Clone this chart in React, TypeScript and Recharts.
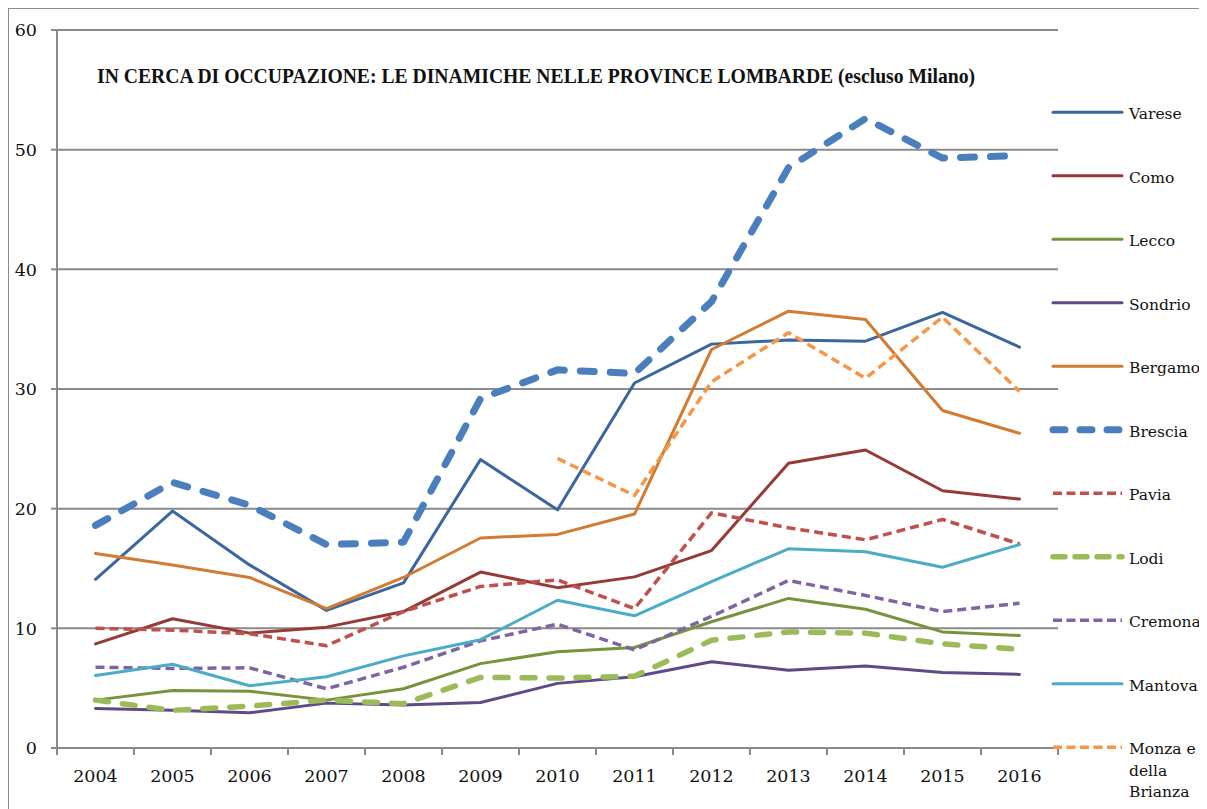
import { CartesianGrid, Line, LineChart, XAxis, YAxis } from "recharts";

const YEARS = ["2004", "2005", "2006", "2007", "2008", "2009", "2010", "2011", "2012", "2013", "2014", "2015", "2016"];
const Y_TICKS = [0, 10, 20, 30, 40, 50, 60];

const VARESE = [14.1, 19.8, 15.3, 11.5, 13.8, 24.1, 19.9, 30.5, 33.75, 34.1, 34.0, 36.4, 33.5];
const COMO = [8.7, 10.8, 9.6, 10.1, 11.4, 14.7, 13.4, 14.3, 16.5, 23.8, 24.9, 21.5, 20.8];
const LECCO = [4.0, 4.8, 4.75, 4.0, 4.95, 7.05, 8.05, 8.4, 10.55, 12.5, 11.6, 9.7, 9.4];
const SONDRIO = [3.3, 3.15, 2.95, 3.75, 3.6, 3.8, 5.4, 5.95, 7.2, 6.5, 6.85, 6.3, 6.15];
const BERGAMO = [16.25, 15.3, 14.25, 11.65, 14.25, 17.55, 17.85, 19.55, 33.3, 36.5, 35.8, 28.2, 26.3];
const BRESCIA = [18.6, 22.2, 20.3, 17.0, 17.2, 29.2, 31.6, 31.3, 37.3, 48.5, 52.6, 49.3, 49.5];
const PAVIA = [10.0, 9.85, 9.55, 8.55, 11.4, 13.5, 14.05, 11.65, 19.65, 18.4, 17.4, 19.1, 17.05];
const LODI = [4.0, 3.15, 3.5, 4.0, 3.7, 5.9, 5.85, 6.0, 9.0, 9.7, 9.6, 8.7, 8.25];
const CREMONA = [6.75, 6.65, 6.7, 4.95, 6.75, 8.95, 10.35, 8.2, 11.0, 14.0, 12.75, 11.4, 12.1];
const MANTOVA = [6.05, 7.0, 5.2, 5.95, 7.7, 9.05, 12.35, 11.05, 13.9, 16.65, 16.4, 15.1, 17.0];
const MONZA = [null, null, null, null, null, null, 24.2, 21.1, 30.6, 34.7, 30.9, 36.0, 29.8];

type Series = {
  key: string;
  name: string[];
  values: (number | null)[];
  color: string;
  width: number;
  dash?: string;
  legendDash?: string;
  cap?: "round" | "butt";
};

const SERIES: Series[] = [
  { key: "varese", name: ["Varese"], values: VARESE, color: "#3b679e", width: 3 },
  { key: "como", name: ["Como"], values: COMO, color: "#963a37", width: 3 },
  { key: "lecco", name: ["Lecco"], values: LECCO, color: "#77933c", width: 3 },
  { key: "sondrio", name: ["Sondrio"], values: SONDRIO, color: "#5f4a86", width: 3 },
  { key: "bergamo", name: ["Bergamo"], values: BERGAMO, color: "#d27b32", width: 3 },
  { key: "brescia", name: ["Brescia"], values: BRESCIA, color: "#4a7ebd", width: 7, dash: "14 16", legendDash: "12 15", cap: "round" },
  { key: "pavia", name: ["Pavia"], values: PAVIA, color: "#c0504d", width: 3.5, dash: "9 5", legendDash: "9 4.5", cap: "butt" },
  { key: "lodi", name: ["Lodi"], values: LODI, color: "#9bbb59", width: 5.5, dash: "13 14", legendDash: "12 10", cap: "round" },
  { key: "cremona", name: ["Cremona"], values: CREMONA, color: "#8064a2", width: 3.5, dash: "9 5", legendDash: "9 4.5", cap: "butt" },
  { key: "mantova", name: ["Mantova"], values: MANTOVA, color: "#4bacc6", width: 3 },
  { key: "monza", name: ["Monza e", "della", "Brianza"], values: MONZA, color: "#f79646", width: 3.5, dash: "9 5", legendDash: "9 4.5", cap: "butt" },
];

const data = YEARS.map((year, i) => {
  const row: Record<string, string | number | null> = { year };
  SERIES.forEach((s) => (row[s.key] = s.values[i]));
  return row;
});

// layout, in chart coordinates (the chart sits inside a 1px border at page 8,8)
const W = 1198;
const H = 800;
const PLOT = { left: 48, top: 21, right: 1049, bottom: 739 };
const X_AXIS_H = 30;
const BAND = (PLOT.right - PLOT.left) / YEARS.length;
const AXIS = "#8a8a8a";
const FONT = "'DejaVu Serif', serif";

function YearTick(props: any) {
  const { x, payload, index } = props;
  const left = x - BAND / 2;
  return (
    <g>
      <line x1={left} x2={left} y1={PLOT.bottom} y2={PLOT.bottom + 7} stroke={AXIS} strokeWidth={2} />
      {index === YEARS.length - 1 && (
        <line x1={x + BAND / 2} x2={x + BAND / 2} y1={PLOT.bottom} y2={PLOT.bottom + 7} stroke={AXIS} strokeWidth={2} />
      )}
      <text x={x} y={PLOT.bottom + 34} textAnchor="middle" fontFamily={FONT} fontSize={17.5} fill="#111">
        {payload.value}
      </text>
    </g>
  );
}

function Overlay() {
  return (
    <svg width={W} height={H} style={{ position: "absolute", left: 0, top: 0, pointerEvents: "none" }}>
      <text
        x={88}
        y={74}
        textLength={878}
        lengthAdjust="spacingAndGlyphs"
        fontFamily="'Liberation Serif', serif"
        fontWeight="bold"
        fontSize={20}
        fill="#111"
      >
        IN CERCA DI OCCUPAZIONE: LE DINAMICHE NELLE PROVINCE LOMBARDE (escluso Milano)
      </text>
      {SERIES.map((s, i) => {
        const y = 103.3 + i * 63.5;
        return (
          <g key={s.key}>
            <line
              x1={1044}
              x2={1113}
              y1={y}
              y2={y}
              stroke={s.color}
              strokeWidth={s.width}
              strokeDasharray={s.legendDash}
              strokeLinecap={s.cap ?? "round"}
            />
            {s.name.map((t, j) => (
              <text key={t} x={1120} y={y + 7 + j * 21.5} fontFamily={FONT} fontSize={15.5} fill="#111">
                {t}
              </text>
            ))}
          </g>
        );
      })}
    </svg>
  );
}

export default function App() {
  return (
    <div style={{ position: "relative", width: W, height: H, border: `1px solid ${AXIS}`, background: "#fff" }}>
      <LineChart
        width={W}
        height={H}
        data={data}
        margin={{ top: PLOT.top, right: W - PLOT.right, bottom: H - PLOT.bottom - X_AXIS_H, left: 0 }}
      >
        <CartesianGrid vertical={false} stroke={AXIS} strokeWidth={2} />
        <XAxis
          dataKey="year"
          scale="band"
          height={X_AXIS_H}
          interval={0}
          tickLine={false}
          axisLine={{ stroke: AXIS, strokeWidth: 2 }}
          tick={YearTick}
        />
        <YAxis
          width={PLOT.left}
          domain={[0, 60]}
          ticks={Y_TICKS}
          interval={0}
          tickSize={6}
          tickMargin={14}
          tickLine={{ stroke: AXIS, strokeWidth: 2 }}
          axisLine={{ stroke: AXIS, strokeWidth: 2 }}
          tick={{ fontFamily: FONT, fontSize: 17.5, fill: "#111" }}
        />
        {SERIES.map((s) => (
          <Line
            key={s.key}
            dataKey={s.key}
            name={s.name.join(" ")}
            type="linear"
            stroke={s.color}
            strokeWidth={s.width}
            strokeDasharray={s.dash}
            strokeLinecap={s.cap ?? "round"}
            strokeLinejoin="round"
            dot={false}
            activeDot={false}
            isAnimationActive={false}
          />
        ))}
      </LineChart>
      <Overlay />
    </div>
  );
}
